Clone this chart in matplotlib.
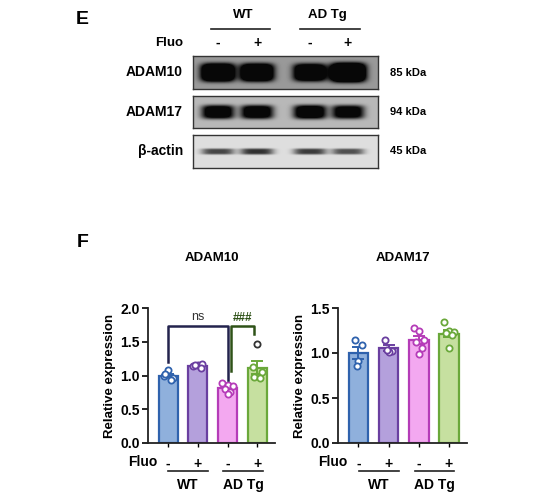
import numpy as np
import matplotlib.pyplot as plt
from matplotlib.transforms import blended_transform_factory

plt.rcParams['font.family'] = ['Liberation Sans', 'DejaVu Sans']
plt.rcParams['font.weight'] = 'bold'

# ---- data ----
fluo_signs = ['-', '+', '-', '+']
genotypes = ['WT', 'AD Tg']

adam10_points = [
    [1.08, 1.00, 0.97, 1.02, 0.93],
    [1.16, 1.14, 1.17, 1.15, 1.11],
    [0.89, 0.86, 0.84, 0.80, 0.76, 0.72],
    [1.47, 1.12, 1.05, 0.98, 0.96],
]
adam17_points = [
    [1.14, 1.09, 0.91, 0.86],
    [1.15, 1.02, 1.01, 1.03],
    [1.28, 1.25, 1.15, 1.12, 1.06, 0.99],
    [1.35, 1.24, 1.23, 1.22, 1.20, 1.06],
]
adam10_outlier = (3, 0)   # group, point index drawn as open dark circle

blot_rows = ['ADAM10', 'ADAM17', 'β-actin']
blot_kda = ['85 kDa', '94 kDa', '45 kDa']
adam10_band = [1.0, 0.95, 0.85, 1.2]
adam17_band = [0.9, 0.9, 0.95, 0.85]
actin_band = [0.75, 0.85, 0.8, 0.7]

fills = ['#8fb0dc', '#b4a0dc', '#f3a8f0', '#c6e0a0']
edges = ['#2f62ad', '#6a3fa0', '#b53cb8', '#6aa83a']

W, H = 550, 497
fig = plt.figure(figsize=(W / 100, H / 100), dpi=100)


def fx(x):
    return x / W


def fy(y):
    return 1 - y / H


# ---- panel E : western blot ----
fig.text(fx(82), fy(20), 'E', fontsize=14, ha='center', va='center')
fig.text(fx(243), fy(15), 'WT', fontsize=9.5, ha='center', va='center')
fig.text(fx(327), fy(15), 'AD Tg', fontsize=9.5, ha='center', va='center')
fig.add_artist(plt.Line2D([fx(211), fx(270)], [fy(29), fy(29)], color='#222', lw=1.2))
fig.add_artist(plt.Line2D([fx(300), fx(360)], [fy(29), fy(29)], color='#222', lw=1.2))
fig.text(fx(183), fy(43), 'Fluo', fontsize=9.5, ha='right', va='center')
lane_px = [218, 257, 310, 348]
for lx, s in zip(lane_px, fluo_signs):
    fig.text(fx(lx), fy(43), s, fontsize=10, ha='center', va='center')

box_left, box_w = 193, 185
row_spans = [(56, 89), (96, 128), (135, 168)]
row_bands = [adam10_band, adam17_band, actin_band]
row_bg = [0.6, 0.72, 0.87]
row_hw = [17, 16.5, 17]
row_hh = [9, 7, 3.2]
row_depth = [1.3, 1.1, 0.8]

for name, kda, (top, bot), bands, bg, hw, hh, dep in zip(
        blot_rows, blot_kda, row_spans, row_bands, row_bg, row_hw, row_hh, row_depth):
    h = bot - top
    ax = fig.add_axes([fx(box_left), fy(bot), fx(box_w), h / H])
    xx, yy = np.meshgrid(np.arange(box_w) + 0.5, np.arange(h) + 0.5)
    img = np.full(xx.shape, bg)
    for lx, b in zip(lane_px, bands):
        cx = lx - box_left
        sx = hw * (0.85 + 0.15 * b)
        sy = hh * (0.8 + 0.2 * b)
        img -= dep * b * np.exp(-((xx - cx) / sx) ** 4 - ((yy - h / 2) / sy) ** 4)
    img = np.clip(img, 0.03, 1)
    ax.imshow(img, cmap='gray', vmin=0, vmax=1, aspect='auto', interpolation='bilinear')
    ax.set_xticks([])
    ax.set_yticks([])
    for sp in ax.spines.values():
        sp.set_color('#333')
        sp.set_linewidth(1.0)
    yc = (top + bot) / 2
    fig.text(fx(183), fy(yc), name, fontsize=10, ha='right', va='center')
    fig.text(fx(390), fy(yc), kda, fontsize=8, ha='left', va='center')

# ---- panel F : bar charts ----
fig.text(fx(83), fy(242), 'F', fontsize=14, ha='center', va='center')

offsets = {
    4: [-0.12, 0.12, 0.0, -0.05, 0.05],
    5: [0.0, -0.15, 0.15, -0.1, 0.1],
    6: [-0.17, 0.0, 0.17, -0.1, 0.1, 0.0],
}


def bar_panel(ax, pts, ymax, ystep, outlier=None):
    x = np.arange(len(pts))
    for i, p in enumerate(pts):
        p = np.array(p)
        m = p.mean()
        sem = p.std(ddof=1) / np.sqrt(len(p))
        ax.bar(i, m, width=0.65, color=fills[i], edgecolor=edges[i], linewidth=1.6, zorder=2)
        ax.errorbar(i, m, yerr=sem, color=edges[i], capsize=4, elinewidth=1.4,
                    capthick=1.4, zorder=3)
        offs = offsets[len(p)]
        for j, v in enumerate(p):
            col = edges[i]
            if outlier is not None and outlier == (i, j):
                col = '#333333'
            ax.scatter(i + offs[j], v, s=20, facecolor='white', edgecolor=col,
                       linewidth=1.3, zorder=4, clip_on=False)
    ax.set_xlim(-0.68, 3.6)
    ax.set_ylim(0, ymax)
    ax.set_yticks(np.arange(0, ymax + 0.01, ystep))
    ax.set_yticklabels([f'{t:.1f}' for t in np.arange(0, ymax + 0.01, ystep)],
                       fontsize=10, fontweight='bold')
    ax.set_xticks(x)
    ax.set_xticklabels(fluo_signs, fontsize=10, fontweight='bold')
    ax.tick_params(axis='x', length=3, width=1, pad=7)
    ax.tick_params(axis='y', length=4, width=1.2, pad=2)
    for s in ['top', 'right']:
        ax.spines[s].set_visible(False)
    for s in ['left', 'bottom']:
        ax.spines[s].set_linewidth(1.3)
        ax.spines[s].set_color('#222')
    ax.set_ylabel('Relative expression', fontsize=9.5, fontweight='bold', labelpad=3)
    tr = blended_transform_factory(ax.transData, ax.transAxes)
    ax.text(-0.87, -0.141, 'Fluo', transform=tr, fontsize=10, ha='center', va='center')
    for cx, g in zip([0.67, 2.52], genotypes):
        ax.plot([cx - 0.66, cx + 0.66], [-0.207, -0.207], transform=tr, color='#222',
                lw=1.2, clip_on=False)
        ax.text(cx, -0.31, g, transform=tr, fontsize=10, ha='center', va='center')


ax1 = fig.add_axes([fx(148), fy(443), fx(127), 135 / H])
bar_panel(ax1, adam10_points, 2.0, 0.5, outlier=adam10_outlier)
ax1.set_title('ADAM10', fontsize=9.5, fontweight='bold', pad=34)
# significance brackets
navy = '#23234d'
ax1.plot([0, 0, 2, 2], [1.20, 1.73, 1.73, 0.93], color=navy, lw=1.8, zorder=5)
ax1.text(1, 1.78, 'ns', ha='center', va='bottom', fontsize=9, fontweight='normal', color='#333')
dgreen = '#2f5218'
ax1.plot([2.13, 2.13, 2.9, 2.9], [1.06, 1.73, 1.73, 1.62], color=dgreen, lw=1.8, zorder=5)
ax1.text(2.52, 1.76, '###', ha='center', va='bottom', fontsize=8.5, color=dgreen)

ax2 = fig.add_axes([fx(338), fy(443), fx(129), 135 / H])
bar_panel(ax2, adam17_points, 1.5, 0.5)
ax2.set_title('ADAM17', fontsize=9.5, fontweight='bold', pad=34)

fig.savefig('out.png', dpi=100)
